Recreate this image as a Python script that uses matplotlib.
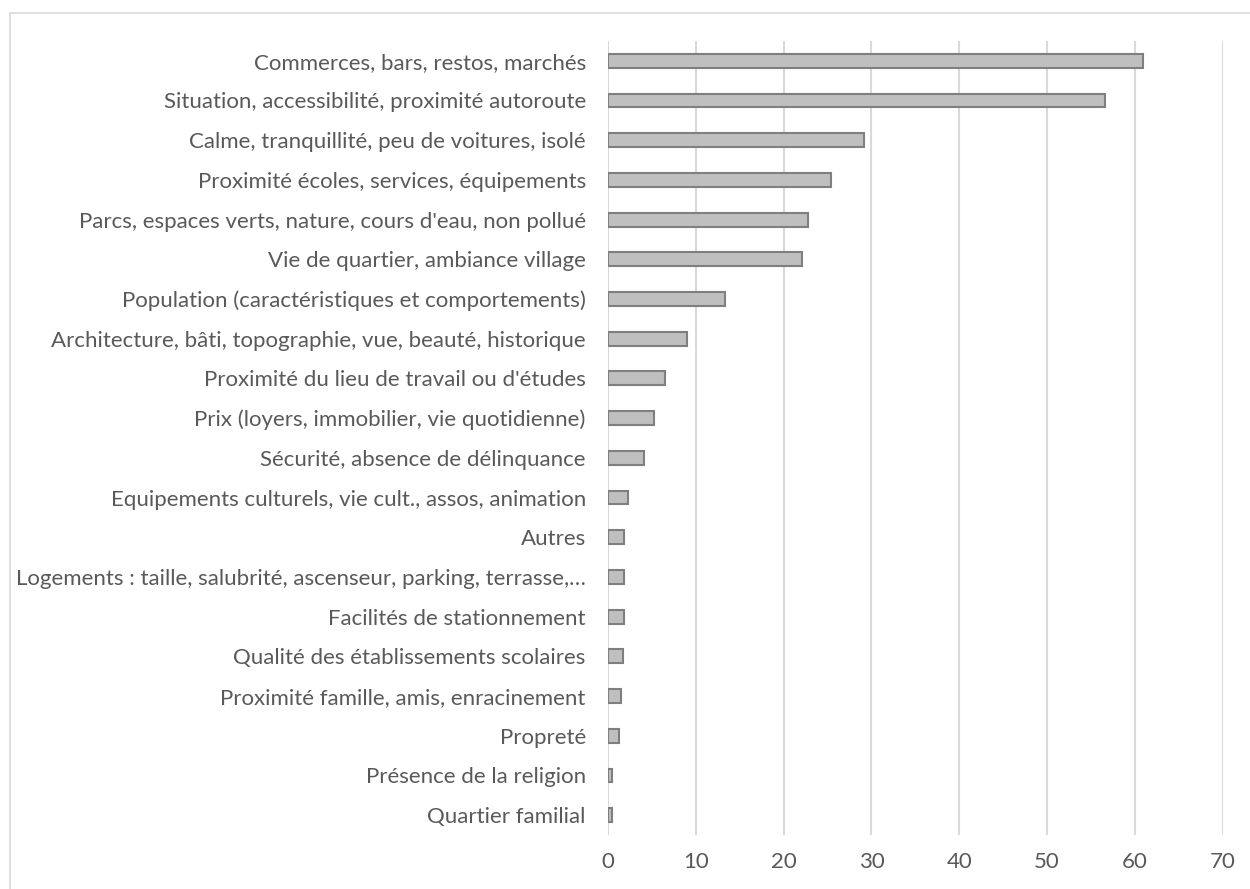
import matplotlib
matplotlib.use("Agg")
import matplotlib.pyplot as plt
from matplotlib.patches import Rectangle

categories = [
    "Commerces, bars, restos, marchés",
    "Situation, accessibilité, proximité autoroute",
    "Calme, tranquillité, peu de voitures, isolé",
    "Proximité écoles, services, équipements",
    "Parcs, espaces verts, nature, cours d'eau, non pollué",
    "Vie de quartier, ambiance village",
    "Population (caractéristiques et comportements)",
    "Architecture, bâti, topographie, vue, beauté, historique",
    "Proximité du lieu de travail ou d'études",
    "Prix (loyers, immobilier, vie quotidienne)",
    "Sécurité, absence de délinquance",
    "Equipements culturels, vie cult., assos, animation",
    "Autres",
    "Logements : taille, salubrité, ascenseur, parking, terrasse,…",
    "Facilités de stationnement",
    "Qualité des établissements scolaires",
    "Proximité famille, amis, enracinement",
    "Propreté",
    "Présence de la religion",
    "Quartier familial",
]
values = [60.9, 56.6, 29.2, 25.4, 22.8, 22.1, 13.3, 9.0, 6.5, 5.2,
          4.1, 2.3, 1.8, 1.8, 1.8, 1.7, 1.5, 1.2, 0.5, 0.5]
xticks = [0, 10, 20, 30, 40, 50, 60, 70]

plt.rcParams['font.family'] = ['Lato', 'DejaVu Sans']
txt = '#595959'

fig = plt.figure(figsize=(12.5, 8.89), dpi=100)
ax = fig.add_axes([0.4864, 0.0607, 0.4918, 0.8933])

pos = list(range(len(categories)))
ax.barh(pos, values, height=0.35, color='#BFBFBF', edgecolor='#7F7F7F', linewidth=1.5, zorder=3)
ax.set_ylim(len(categories) - 0.5, -0.5)
ax.set_xlim(0, 70)
ax.set_xticks(xticks)
ax.set_yticks(pos)
ax.set_yticklabels(categories, fontsize=16, color=txt)
ax.tick_params(axis='x', labelsize=16, labelcolor=txt, length=0, pad=12)
ax.tick_params(axis='y', length=0, pad=16)
ax.grid(axis='x', color='#D9D9D9', linewidth=1.5, zorder=0)
for s in ax.spines.values():
    s.set_visible(False)

# chart border (clipped at right and bottom like the reference)
fig.patches.append(Rectangle((10 / 1250, -0.05), 1.1, 1 - 12.5 / 889 + 0.05,
                             transform=fig.transFigure, fill=False,
                             edgecolor='#D9D9D9', linewidth=1.2))

fig.savefig("out.png", dpi=100)
